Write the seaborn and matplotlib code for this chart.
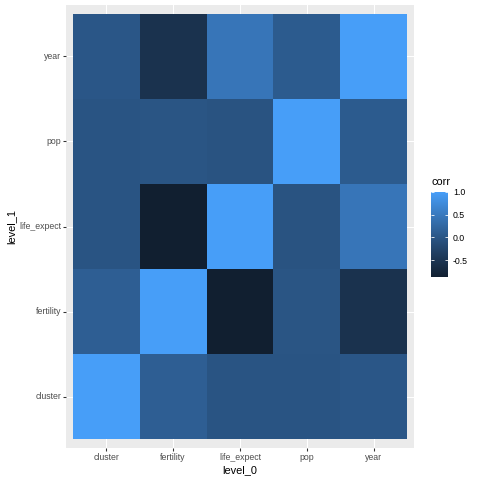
import numpy as np
import pandas as pd
import matplotlib
matplotlib.use("Agg")
import matplotlib.pyplot as plt
import seaborn as sns
from matplotlib.colors import ListedColormap

# variables (x = level_0, y = level_1)
level_0 = ["cluster", "fertility", "life_expect", "pop", "year"]
level_1 = ["year", "pop", "life_expect", "fertility", "cluster"]  # top to bottom

# correlation estimates (pairs)
pairs = {
    ("cluster", "fertility"): 0.12,
    ("cluster", "life_expect"): -0.03,
    ("cluster", "pop"): -0.03,
    ("cluster", "year"): 0.0,
    ("fertility", "life_expect"): -0.87,
    ("fertility", "pop"): -0.02,
    ("fertility", "year"): -0.55,
    ("life_expect", "pop"): -0.05,
    ("life_expect", "year"): 0.45,
    ("pop", "year"): 0.07,
}


def corr_of(a, b):
    if a == b:
        return 1.0
    return pairs.get((a, b), pairs.get((b, a)))


df = pd.DataFrame([[corr_of(c, r) for c in level_0] for r in level_1],
                  index=level_1, columns=level_0)


# ggplot2-like gradient, interpolated in Lab space
def hex2rgb(h):
    h = h.lstrip("#")
    return np.array([int(h[i:i + 2], 16) / 255 for i in (0, 2, 4)])


M = np.array([[0.4124, 0.3576, 0.1805],
              [0.2126, 0.7152, 0.0722],
              [0.0193, 0.1192, 0.9505]])
WHITE = np.array([0.95047, 1.0, 1.08883])


def rgb2lab(c):
    lin = np.where(c <= 0.04045, c / 12.92, ((c + 0.055) / 1.055) ** 2.4)
    xyz = M @ lin / WHITE
    f = np.where(xyz > 0.008856, np.cbrt(xyz), 7.787 * xyz + 16 / 116)
    return np.array([116 * f[1] - 16, 500 * (f[0] - f[1]), 200 * (f[1] - f[2])])


def lab2rgb(lab):
    fy = (lab[0] + 16) / 116
    fx = fy + lab[1] / 500
    fz = fy - lab[2] / 200
    f = np.array([fx, fy, fz])
    xyz = np.where(f ** 3 > 0.008856, f ** 3, (f - 16 / 116) / 7.787) * WHITE
    lin = np.linalg.solve(M, xyz)
    c = np.where(lin <= 0.0031308, 12.92 * lin, 1.055 * np.clip(lin, 0, None) ** (1 / 2.4) - 0.055)
    return np.clip(c, 0, 1)


lo, hi = rgb2lab(hex2rgb("#111F30")), rgb2lab(hex2rgb("#479EF8"))
cmap = ListedColormap([lab2rgb(lo + t * (hi - lo)) for t in np.linspace(0, 1, 256)])

plt.rcParams["font.family"] = ["Liberation Sans", "DejaVu Sans"]
fig = plt.figure(figsize=(480 / 72, 480 / 72), dpi=72)
ax = fig.add_axes([66 / 480, 1 - 448 / 480, 348 / 480, 443 / 480])
cax = fig.add_axes([431 / 480, 1 - 277 / 480, 17 / 480, 85 / 480])

ax.set_facecolor("#EBEBEB")
ax.set_axisbelow(True)
ax.grid(True, color="white", linewidth=1.07)

sns.heatmap(df, cmap=cmap, vmin=df.values.min(), vmax=df.values.max(),
            ax=ax, cbar_ax=cax, linewidths=0)

ax.set_xlim(-0.1, 5.1)
ax.set_ylim(5.1, -0.1)
for s in ax.spines.values():
    s.set_visible(False)
ax.tick_params(axis="both", length=2.75, width=1.07, color="#333333",
               labelcolor="#4D4D4D", labelsize=8.8, pad=2.2)
ax.set_yticklabels(level_1, rotation=0)
ax.set_xticklabels(level_0, rotation=0)
ax.set_xlabel("level_0", fontsize=11, color="black", labelpad=3)
ax.set_ylabel("level_1", fontsize=11, color="black", labelpad=3)

cb = ax.collections[0].colorbar
cb.outline.set_visible(False)
cb.set_ticks([-0.5, 0.0, 0.5, 1.0])
cb.set_ticklabels(["-0.5", "0.0", "0.5", "1.0"])
cax.tick_params(which="both", direction="in", color="white", length=3.4,
                width=0.8, left=True, right=True, labelsize=8.8,
                labelcolor="black", pad=5)
fig.text(431 / 480, 1 - 182 / 480, "corr", fontsize=11, va="center", ha="left")

fig.savefig("out.png", dpi=72)
